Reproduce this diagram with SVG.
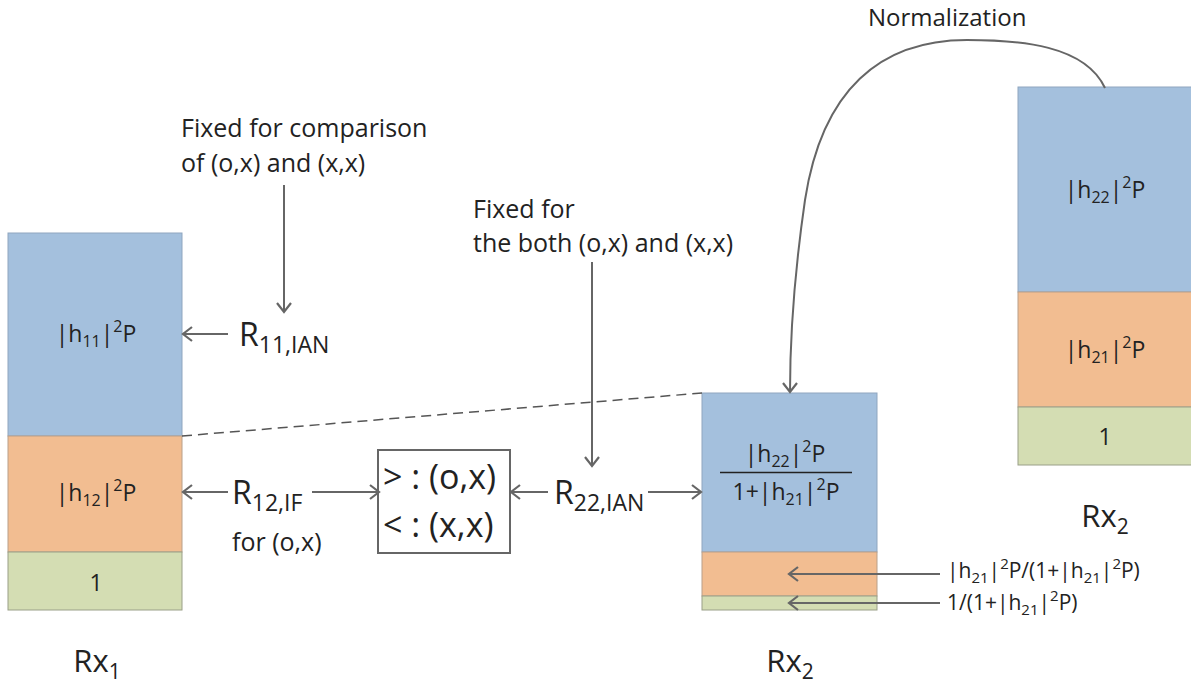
<svg xmlns="http://www.w3.org/2000/svg" width="1191" height="683" viewBox="0 0 1191 683">
<style>
text{font-family:"Open Sans",Lato,"Liberation Sans",sans-serif;fill:#222}
.blue{fill:#A4C0DD;stroke:#8FA6BF;stroke-width:1}
.orange{fill:#F2BD91;stroke:#B9A08A;stroke-width:1}
.green{fill:#D4DDB3;stroke:#9A9F88;stroke-width:1}
.ar{stroke:#666;stroke-width:2;fill:none;marker-end:url(#ah)}
.lbl{font-size:25px}
.big{font-size:32px}
.cell{font-size:23px;text-anchor:middle}
</style>
<defs>
<marker id="ah" markerUnits="userSpaceOnUse" markerWidth="16" markerHeight="20" refX="11" refY="8" orient="auto">
<path d="M2,1 L11,8 L2,15" fill="none" stroke="#666" stroke-width="2.2"/>
</marker>
</defs>
<rect width="1191" height="683" fill="#fff"/>

<g id="rx1">
<rect class="blue" x="8" y="233" width="174" height="203"/>
<rect class="orange" x="8" y="436" width="174" height="116"/>
<rect class="green" x="8" y="552" width="174" height="58"/>
<text class="cell" x="96" y="342">|h<tspan font-size="16" dy="5">11</tspan><tspan dy="-5">|</tspan><tspan font-size="16" dy="-10">2</tspan><tspan dy="10">P</tspan></text>
<text class="cell" x="96" y="501">|h<tspan font-size="16" dy="5">12</tspan><tspan dy="-5">|</tspan><tspan font-size="16" dy="-10">2</tspan><tspan dy="10">P</tspan></text>
<text class="cell" x="96" y="591">1</text>
<text x="97" y="672" font-size="31" text-anchor="middle">Rx<tspan font-size="21" dy="7">1</tspan></text>
</g>

<g id="rx2mid">
<rect class="blue" x="702" y="393" width="175" height="159"/>
<rect class="orange" x="702" y="552" width="175" height="44"/>
<rect class="green" x="702" y="596" width="175" height="14"/>
<text class="cell" x="785" y="462">|h<tspan font-size="16" dy="5">22</tspan><tspan dy="-5">|</tspan><tspan font-size="16" dy="-10">2</tspan><tspan dy="10">P</tspan></text>
<line x1="720" y1="472.500" x2="852" y2="472.500" stroke="#222" stroke-width="1.5"/>
<text class="cell" x="786" y="500">1+|h<tspan font-size="16" dy="5">21</tspan><tspan dy="-5">|</tspan><tspan font-size="16" dy="-10">2</tspan><tspan dy="10">P</tspan></text>
<text x="790" y="672" font-size="31" text-anchor="middle">Rx<tspan font-size="21" dy="7">2</tspan></text>
</g>

<g id="rx2right">
<rect class="blue" x="1018" y="87" width="180" height="205"/>
<rect class="orange" x="1018" y="292" width="180" height="115"/>
<rect class="green" x="1018" y="407" width="180" height="58"/>
<text class="cell" x="1105" y="198">|h<tspan font-size="16" dy="5">22</tspan><tspan dy="-5">|</tspan><tspan font-size="16" dy="-10">2</tspan><tspan dy="10">P</tspan></text>
<text class="cell" x="1105" y="358">|h<tspan font-size="16" dy="5">21</tspan><tspan dy="-5">|</tspan><tspan font-size="16" dy="-10">2</tspan><tspan dy="10">P</tspan></text>
<text class="cell" x="1105" y="445">1</text>
<text x="1105" y="527" font-size="31" text-anchor="middle">Rx<tspan font-size="21" dy="7">2</tspan></text>
</g>

<g id="compare">
<rect x="378" y="450" width="132" height="103" fill="#fff" stroke="#666" stroke-width="2"/>
<text x="383" y="489" font-size="34">&gt; : (o,x)</text>
<text x="383" y="537" font-size="34">&lt; : (x,x)</text>
</g>

<g id="labels">
<text class="lbl" x="181" y="137">Fixed for comparison</text>
<text class="lbl" x="181" y="172">of (o,x) and (x,x)</text>
<text class="lbl" x="473" y="218">Fixed for</text>
<text class="lbl" x="473" y="252">the both (o,x) and (x,x)</text>
<text x="868" y="26" font-size="24">Normalization</text>
<text class="big" x="239" y="346">R<tspan font-size="23" dy="7">11,IAN</tspan></text>
<text class="big" x="232" y="504">R<tspan font-size="23" dy="7">12,IF</tspan></text>
<text class="lbl" x="232" y="551">for (o,x)</text>
<text class="big" x="554" y="504">R<tspan font-size="23" dy="7">22,IAN</tspan></text>
<text x="947" y="578" font-size="21">|h<tspan font-size="15" dy="5">21</tspan><tspan dy="-5">|</tspan><tspan font-size="15" dy="-9">2</tspan><tspan dy="9">P/(1+|h</tspan><tspan font-size="15" dy="5">21</tspan><tspan dy="-5">|</tspan><tspan font-size="15" dy="-9">2</tspan><tspan dy="9">P)</tspan></text>
<text x="947" y="610" font-size="21">1/(1+|h<tspan font-size="15" dy="5">21</tspan><tspan dy="-5">|</tspan><tspan font-size="15" dy="-9">2</tspan><tspan dy="9">P)</tspan></text>
</g>

<g id="connectors">
<line x1="182" y1="436" x2="702" y2="393" stroke="#555" stroke-width="1.5" stroke-dasharray="10,6"/>
<line class="ar" x1="284" y1="185" x2="284" y2="312"/>
<line class="ar" x1="228" y1="334" x2="183" y2="334"/>
<line class="ar" x1="228" y1="492" x2="183" y2="492"/>
<line class="ar" x1="312" y1="492" x2="379" y2="492"/>
<line class="ar" x1="548" y1="492" x2="511" y2="492"/>
<line class="ar" x1="648" y1="492" x2="701" y2="492"/>
<line class="ar" x1="592" y1="262" x2="592" y2="466"/>
<line class="ar" x1="940" y1="574" x2="789" y2="574"/>
<line class="ar" x1="940" y1="603" x2="789" y2="603"/>
<path class="ar" d="M1105,88 C1085,45 1020,40 967,40 C880,40 822,90 805,200 C796,262 790,330 790,392"/>
</g>
</svg>
